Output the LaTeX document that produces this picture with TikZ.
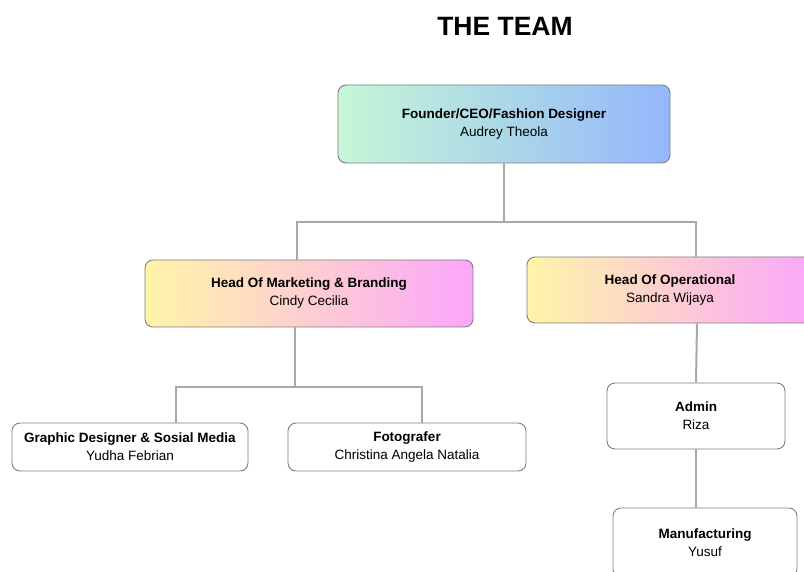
\documentclass[tikz,border=0pt]{standalone}
\usepackage{fontspec}
\setmainfont{Liberation Sans}
\begin{document}
\begin{tikzpicture}[x=1pt,y=-1pt,
  box/.style={draw=boxgray,line width=0.9pt,rounded corners=8pt,rectangle,inner sep=0pt,
    align=center,font=\fontsize{13.5}{18}\selectfont,text=black},
  gcyan/.style={left color=topL,right color=topR},
  gpink/.style={left color=midL,right color=midR},
  conn/.style={draw=conngray,line width=2pt},
  ttl/.style={font=\fontsize{26.5}{30}\selectfont\bfseries,inner sep=0pt}]
\definecolor{boxgray}{HTML}{7E7E7E}
\definecolor{conngray}{HTML}{A8A8A8}
\definecolor{topL}{HTML}{C6F7D6}
\definecolor{topR}{HTML}{93B7FB}
\definecolor{midL}{HTML}{FFF5A8}
\definecolor{midR}{HTML}{FBA6FB}
\path[use as bounding box,fill=white] (0,0) rectangle (804,572);
\begin{scope}
\clip (0,0) rectangle (804,572);
\node[ttl] (title) at (505,26) {THE TEAM};
\node[box,gcyan,minimum width=332pt,minimum height=78pt] (ceo) at (504,124)
  {\textbf{Founder/CEO/Fashion Designer}\\Audrey Theola};
\node[box,gpink,minimum width=328pt,minimum height=67pt] (mkt) at (309,293.5)
  {\textbf{Head Of Marketing \& Branding}\\Cindy Cecilia};
\node[box,gpink,minimum width=286pt,minimum height=66pt] (ops) at (670,290)
  {\textbf{Head Of Operational}\\Sandra Wijaya};
\node[box,fill=white,minimum width=178pt,minimum height=66pt] (adm) at (696,416)
  {\textbf{Admin}\\Riza};
\node[box,fill=white,minimum width=184pt,minimum height=69pt] (man) at (705,542.5)
  {\textbf{Manufacturing}\\Yusuf};
\node[box,fill=white,minimum width=236pt,minimum height=48pt] (gd) at (130,447)
  {\textbf{Graphic Designer \& Sosial Media}\\Yudha Febrian};
\node[box,fill=white,minimum width=238pt,minimum height=48pt] (foto) at (407,447)
  {\textbf{Fotografer}\\Christina Angela Natalia};
\coordinate (j1) at (504,222);
\coordinate (j2) at (295,387);
\draw[conn] (ceo.south) -- (j1);
\draw[conn] (j1) -| ([xshift=-12pt]mkt.north);
\draw[conn] (j1) -| ([xshift=26pt]ops.north);
\draw[conn] ([xshift=-14pt]mkt.south) -- (j2);
\draw[conn] (j2) -| ([xshift=46pt]gd.north);
\draw[conn] (j2) -| ([xshift=15pt]foto.north);
\draw[conn] ([xshift=27pt]ops.south) -- (adm.north);
\draw[conn] (adm.south) -- (adm.south |- man.north);
\end{scope}
\end{tikzpicture}
\end{document}
